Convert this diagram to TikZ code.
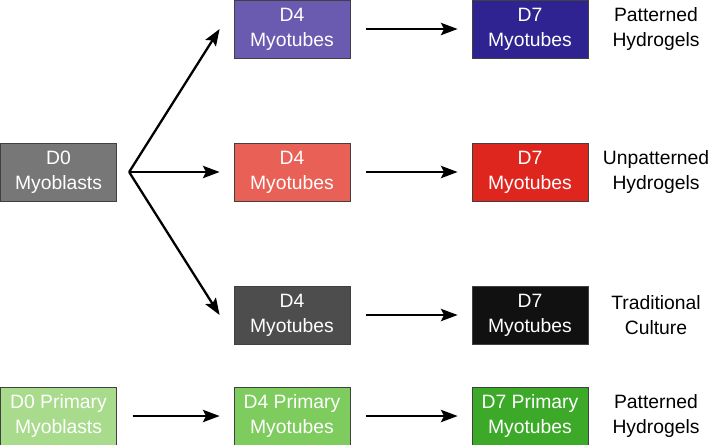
\documentclass[tikz,border=0pt]{standalone}
\usepackage{fontspec}
\setmainfont{Liberation Sans}
\usetikzlibrary{arrows.meta}
\definecolor{purpleA}{RGB}{106,90,176}
\definecolor{purpleB}{RGB}{46,35,145}
\definecolor{redA}{RGB}{232,96,86}
\definecolor{redB}{RGB}{222,38,30}
\definecolor{greyA}{RGB}{77,77,77}
\definecolor{greyB}{RGB}{17,17,17}
\definecolor{greyS}{RGB}{119,119,119}
\definecolor{greenS}{RGB}{168,220,140}
\definecolor{greenA}{RGB}{126,203,94}
\definecolor{greenB}{RGB}{60,170,40}

\begin{document}
\begin{tikzpicture}[x=0.02cm, y=-0.02cm,
		stage/.style={draw=black!75, line width=0.4pt, text=white, align=center,
			minimum width=2.32cm, minimum height=1.16cm, inner sep=0pt,
			font=\fontsize{11}{14.2}\selectfont},
		note/.style={align=center, font=\fontsize{11}{14.2}\selectfont},
		arr/.style={line width=1.3pt, -{Stealth[length=9.5pt, width=7pt, inset=1.8pt]}},
		sarr/.style={arr, shorten <=9pt, shorten >=8pt}]
		%%%%% START %%%%%
		
		\useasboundingbox (0, 0) rectangle (709, 444);
		
		% start cells
		\node[stage, fill=greyS] (d0) at (58.5, 172) {D0\\Myoblasts};
		\coordinate (split) at ([xshift=7pt]d0.east);
		
		% patterned hydrogels
		\node[stage, fill=purpleA] (d4p) at (292, 29) {D4\\Myotubes};
		\node[stage, fill=purpleB] (d7p) at (530, 29) {D7\\Myotubes};
		\node[note] (lp) at (656, 29) {Patterned\\Hydrogels};
		
		% unpatterned hydrogels
		\node[stage, fill=redA] (d4u) at (292, 172) {D4\\Myotubes};
		\node[stage, fill=redB] (d7u) at (530, 172) {D7\\Myotubes};
		\node[note] (lu) at (656, 172) {Unpatterned\\Hydrogels};
		
		% traditional culture
		\node[stage, fill=greyA] (d4t) at (292, 315) {D4\\Myotubes};
		\node[stage, fill=greyB] (d7t) at (530, 315) {D7\\Myotubes};
		\node[note] (lt) at (656, 315) {Traditional\\Culture};
		
		% primary cells
		\node[stage, fill=greenS] (d0m) at (58.5, 416) {D0 Primary\\Myoblasts};
		\node[stage, fill=greenA] (d4m) at (292, 416) {D4 Primary\\Myotubes};
		\node[stage, fill=greenB] (d7m) at (530, 416) {D7 Primary\\Myotubes};
		\node[note] (lm) at (656, 416) {Patterned\\Hydrogels};
		
		% arrows
		\draw[arr] (split) -- ([xshift=-8pt]d4p.west);
		\draw[arr] (split) -- ([xshift=-8pt]d4u.west);
		\draw[arr] (split) -- ([xshift=-8pt]d4t.west);
		
		\draw[sarr] (d4p) -- (d7p);
		\draw[sarr] (d4u) -- (d7u);
		\draw[sarr] (d4t) -- (d7t);
		\draw[sarr] (d0m) -- (d4m);
		\draw[sarr] (d4m) -- (d7m);
		
		%%%%% END %%%%%
\end{tikzpicture}
\end{document}
